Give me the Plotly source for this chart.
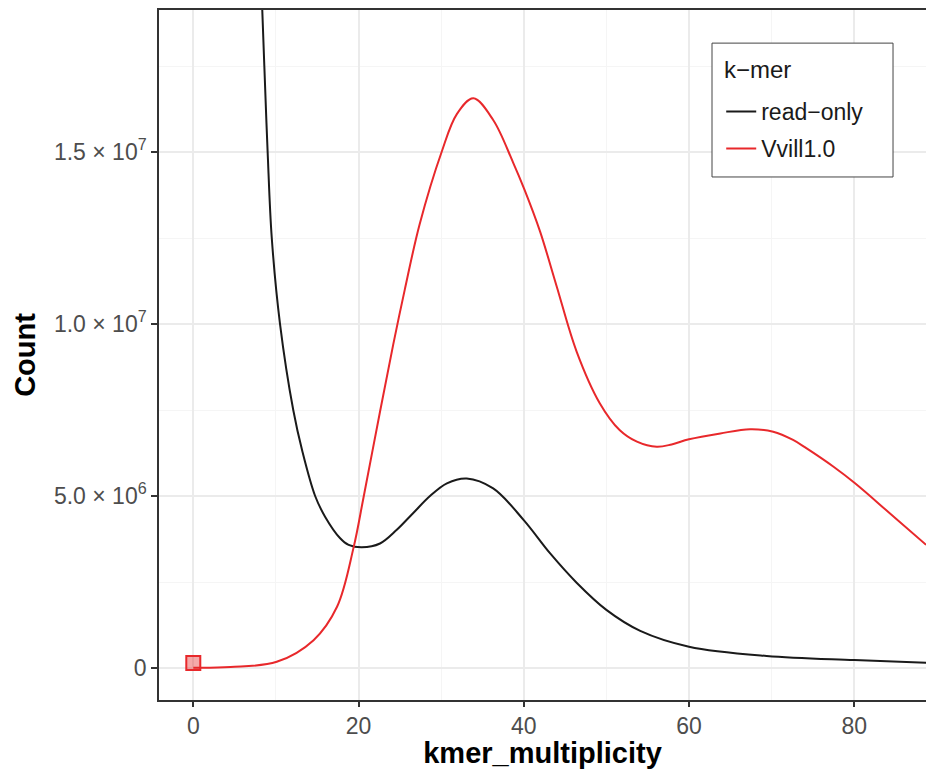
import plotly.graph_objects as go

# ---- data ----
read_only_x = [8.35, 8.6, 9.0, 9.5, 10.5, 12.1, 13.2, 14.75, 15.95, 17.75, 18.8, 20.4, 22.6,
               24.6, 26.6, 28.65, 30.7, 33.1, 36.3, 40.0, 43.2, 46.4, 50.0, 54.1, 60.0, 69.4,
               80.0, 88.7]
read_only_y = [1.913e7, 1.75e7, 1.5e7, 1.25e7, 1.0e7, 7.5e6, 6.3e6, 5.0e6, 4.4e6, 3.78e6,
               3.58e6, 3.51e6, 3.62e6, 4.01e6, 4.5e6, 5.0e6, 5.37e6, 5.51e6, 5.22e6, 4.3e6,
               3.33e6, 2.48e6, 1.69e6, 1.08e6, 6.2e5, 3.5e5, 2.3e5, 1.55e5]

vvill_x = [0.0, 4.5, 10.1, 14.56, 17.4, 19.4, 20.6, 22.6, 24.2, 25.6, 27.4, 30.06, 31.9, 33.9,
           36.3, 38.7, 40.1, 41.96, 43.98, 46.4, 49.2, 51.6, 53.7, 56.1, 57.9, 60.0, 63.8,
           67.4, 70.2, 72.6, 74.2, 77.5, 80.1, 84.3, 88.7]
vvill_y = [1.0e4, 3.0e4, 1.8e5, 8.1e5, 1.78e6, 3.5e6, 4.95e6, 7.45e6, 9.4e6, 1.1e7, 1.29e7,
           1.5e7, 1.61e7, 1.656e7, 1.593e7, 1.47e7, 1.39e7, 1.27e7, 1.11e7, 9.2e6, 7.7e6,
           6.92e6, 6.58e6, 6.43e6, 6.5e6, 6.65e6, 6.82e6, 6.94e6, 6.87e6, 6.63e6, 6.39e6,
           5.85e6, 5.37e6, 4.5e6, 3.58e6]

highlight_x = [0]
highlight_y = [1.45e5]

x_ticks = [0, 20, 40, 60, 80]
y_ticks = [0, 5e6, 1e7, 1.5e7]
y_ticktext = ["0", "5.0 × 10<sup>6</sup>", "1.0 × 10<sup>7</sup>", "1.5 × 10<sup>7</sup>"]
legend_title = "k−mer"

RED = "#e8282b"
BLACK = "#1a1a1a"
FONT = "Liberation Sans"

fig = go.Figure()
fig.add_trace(go.Scatter(x=read_only_x, y=read_only_y, mode="lines", name="read−only",
                         line=dict(color=BLACK, width=2, shape="spline", smoothing=1.0),
                         legendgroup="a"))
fig.add_trace(go.Scatter(x=vvill_x, y=vvill_y, mode="lines", name="Vvill1.0",
                         line=dict(color=RED, width=2, shape="spline", smoothing=1.0),
                         legendgroup="b"))
fig.add_trace(go.Scatter(x=highlight_x, y=highlight_y, mode="markers", showlegend=False,
                         marker=dict(symbol="square", size=14, color="rgba(230,40,40,0.4)",
                                     line=dict(color=RED, width=2))))

# legend frame + title
fig.add_shape(type="rect", xref="paper", yref="paper",
              x0=0.721, x1=0.957, y0=0.758, y1=0.952,
              line=dict(color="#444444", width=1), fillcolor="white", layer="above")
fig.add_annotation(text=legend_title, xref="paper", yref="paper", x=0.734, y=0.914,
                   xanchor="left", yanchor="middle", showarrow=False,
                   font=dict(size=24, color="#1a1a1a", family=FONT))

fig.update_layout(
    width=926, height=769,
    margin=dict(l=159, r=0, t=10, b=69),
    paper_bgcolor="white", plot_bgcolor="white",
    font=dict(family=FONT, color="#4d4d4d"),
    legend=dict(
        font=dict(size=23, color="#1a1a1a", family=FONT),
        x=0.733, y=0.884, xanchor="left", yanchor="top",
        bgcolor="rgba(0,0,0,0)", borderwidth=0,
        tracegroupgap=4, traceorder="grouped",
    ),
    xaxis=dict(
        range=[-4.15, 88.69],
        tickvals=x_ticks, ticktext=[str(v) for v in x_ticks],
        tickfont=dict(size=23, color="#4d4d4d"),
        ticks="outside", ticklen=5, tickwidth=2, tickcolor="#333333",
        showgrid=True, gridcolor="#ebebeb", gridwidth=1.5,
        minor=dict(dtick=10, tick0=0, showgrid=True, gridcolor="#f5f5f5", gridwidth=1, ticklen=0),
        showline=True, linecolor="#333333", linewidth=1.5, mirror=True,
        zeroline=False,
        title=dict(text="<b>kmer_multiplicity</b>", font=dict(size=29, color="black", family=FONT),
                   standoff=4),
    ),
    yaxis=dict(
        range=[-9.3e5, 1.9128e7],
        tickvals=y_ticks, ticktext=y_ticktext,
        tickfont=dict(size=23, color="#4d4d4d"),
        ticks="outside", ticklen=6, tickwidth=2, tickcolor="#333333",
        showgrid=True, gridcolor="#ebebeb", gridwidth=1.5,
        minor=dict(dtick=2.5e6, tick0=0, showgrid=True, gridcolor="#f5f5f5", gridwidth=1, ticklen=0),
        showline=True, linecolor="#333333", linewidth=1.5,
        zeroline=False,
        title=dict(text="<b>Count</b>", font=dict(size=29, color="black", family=FONT),
                   standoff=10),
    ),
)

fig.write_html("out.html", config={"displayModeBar": False},
               post_script="document.body.style.margin='0px';")
